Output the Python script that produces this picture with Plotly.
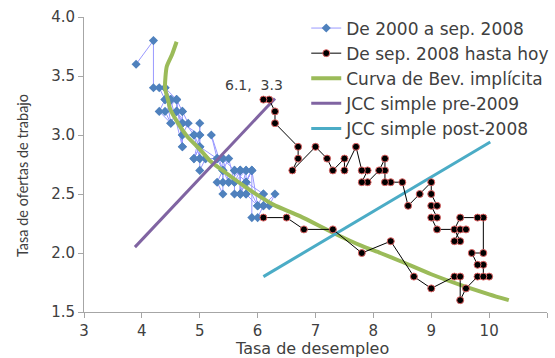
import plotly.graph_objects as go

# Blue series: De 2000 a sep. 2008 (unemployment rate, job openings rate)
blue_u = [3.9,
          4.2, 4.2, 4.3, 4.4, 4.3, 4.5, 4.6, 4.9, 5.0, 5.3, 5.5, 5.7,
          5.7, 5.7, 5.7, 5.9, 5.8, 5.8, 5.8, 5.7, 5.7, 5.7, 5.9, 6.0,
          5.8, 5.9, 5.9, 6.0, 6.1, 6.3, 6.2, 6.1, 6.1, 6.0, 5.8, 5.7,
          5.7, 5.6, 5.8, 5.6, 5.6, 5.6, 5.5, 5.4, 5.4, 5.5, 5.4, 5.4,
          5.3, 5.4, 5.2, 5.3, 5.1, 5.0, 5.0, 4.9, 5.0, 5.0, 5.0, 4.9,
          4.7, 4.8, 4.7, 4.7, 4.6, 4.6, 4.7, 4.7, 4.5, 4.4, 4.5, 4.4,
          4.6, 4.5, 4.4, 4.5, 4.4, 4.6, 4.7, 4.6, 4.7, 4.7, 4.7, 5.0,
          5.0, 4.9, 5.1, 5.0, 5.4, 5.6, 5.8, 6.1, 6.0]
blue_v = [3.6,
          3.8, 3.4, 3.4, 3.3, 3.2, 3.1, 3.2, 3.0, 2.9, 2.8, 2.6, 2.7,
          2.5, 2.7, 2.5, 2.7, 2.6, 2.5, 2.7, 2.5, 2.7, 2.5, 2.7, 2.4,
          2.6, 2.7, 2.3, 2.3, 2.4, 2.5, 2.4, 2.5, 2.4, 2.4, 2.5, 2.5,
          2.7, 2.6, 2.7, 2.7, 2.5, 2.6, 2.8, 2.7, 2.6, 2.6, 2.8, 2.5,
          2.6, 2.7, 3.0, 2.8, 2.8, 2.7, 2.9, 2.8, 3.0, 3.1, 2.8, 3.0,
          3.0, 3.1, 3.2, 2.9, 3.3, 3.2, 3.1, 2.9, 3.3, 3.4, 3.1, 3.2,
          3.3, 3.3, 3.3, 3.3, 3.4, 3.3, 3.2, 3.2, 3.1, 3.0, 3.1, 3.0,
          2.9, 2.8, 2.8, 2.8, 2.8, 2.7, 2.6, 2.5, 2.4]

# Red series: De sep. 2008 hasta hoy
red_u = [6.1, 6.5, 6.8, 7.3, 7.8, 8.3, 8.7, 9.0, 9.4, 9.5, 9.5, 9.6,
         9.8, 10.0, 9.9, 9.9, 9.8, 9.7, 9.9, 9.9, 9.8, 9.5, 9.4, 9.5,
         9.4, 9.5, 9.6, 9.1, 9.0, 9.1, 9.0, 9.1, 9.0, 9.0, 8.8, 8.6,
         8.5, 8.3, 8.2, 8.2, 8.2, 8.1, 7.9, 7.8, 7.9, 7.8, 7.7, 7.5,
         7.5, 7.3, 7.2, 7.0, 6.6, 6.7, 6.7, 6.3, 6.3, 6.2, 6.1]
red_v = [2.3, 2.3, 2.2, 2.2, 2.0, 2.1, 1.8, 1.7, 1.8, 1.8, 1.6, 1.7,
         1.8, 1.8, 1.8, 1.9, 1.9, 2.0, 2.0, 2.3, 2.3, 2.3, 2.2, 2.1,
         2.1, 2.2, 2.2, 2.2, 2.3, 2.3, 2.4, 2.4, 2.5, 2.6, 2.5, 2.4,
         2.6, 2.6, 2.6, 2.7, 2.8, 2.7, 2.6, 2.6, 2.7, 2.7, 2.9, 2.7,
         2.8, 2.7, 2.8, 2.9, 2.7, 2.8, 2.9, 3.1, 3.2, 3.3, 3.3]

# Implicit Beveridge curve
bev_u = [4.60, 4.52, 4.43, 4.40, 4.45, 4.49, 4.60, 4.78, 5.00, 5.18, 5.45,
         5.70, 6.00, 6.27, 6.74, 7.31, 7.80, 8.12, 8.47, 9.00, 9.50, 10.00, 10.34]
bev_v = [3.79, 3.68, 3.58, 3.40, 3.30, 3.22, 3.12, 2.99, 2.88, 2.78, 2.68,
         2.59, 2.49, 2.41, 2.31, 2.17, 2.06, 2.00, 1.93, 1.82, 1.73, 1.65, 1.60]

# Simple JCC lines
jcc_pre_u = [3.88, 6.30]
jcc_pre_v = [2.05, 3.31]
jcc_post_u = [6.10, 10.02]
jcc_post_v = [1.80, 2.94]

x_ticks = [3, 4, 5, 6, 7, 8, 9, 10, 11]
y_ticks = [1.5, 2.0, 2.5, 3.0, 3.5, 4.0]

names = ["De 2000 a sep. 2008", "De sep. 2008 hasta hoy", "Curva de Bev. implícita",
         "JCC simple pre-2009", "JCC simple post-2008"]

FONT = "DejaVu Sans"
TXT = "#404040"

fig = go.Figure()
fig.add_trace(go.Scatter(x=blue_u, y=blue_v, mode="lines+markers", name=names[0],
                         line=dict(color="#9999FF", width=1),
                         marker=dict(symbol="diamond", size=7, color="#4F81BD"),
                         legendgroup="g1", legendrank=1))
fig.add_trace(go.Scatter(x=bev_u, y=bev_v, mode="lines", name=names[2],
                         line=dict(color="#9BBB59", width=4, shape="spline", smoothing=0.6),
                         legendgroup="g3", legendrank=3))
fig.add_trace(go.Scatter(x=jcc_pre_u, y=jcc_pre_v, mode="lines", name=names[3],
                         line=dict(color="#8064A2", width=3), legendgroup="g4", legendrank=4))
fig.add_trace(go.Scatter(x=jcc_post_u, y=jcc_post_v, mode="lines", name=names[4],
                         line=dict(color="#4BACC6", width=3), legendgroup="g5", legendrank=5))
fig.add_trace(go.Scatter(x=red_u, y=red_v, mode="lines+markers", name=names[1],
                         line=dict(color="#000000", width=1),
                         marker=dict(symbol="circle", size=7, color="#000000",
                                     line=dict(color="#E06666", width=1)),
                         legendgroup="g2", legendrank=2))

fig.add_annotation(x=red_u[-1], y=red_v[-1], text="6.1,  3.3", showarrow=False,
                   xshift=-9, yshift=15, font=dict(family=FONT, size=14, color=TXT))

fig.add_annotation(xref="paper", yref="paper", x=0.4924, y=-0.124, text="Tasa de desempleo",
                   showarrow=False, xanchor="center", yanchor="middle",
                   font=dict(family=FONT, size=16, color=TXT))
fig.add_annotation(xref="paper", yref="paper", x=-0.134, y=0.464, text="Tasa de ofertas de trabajo",
                   showarrow=False, xanchor="center", yanchor="middle", textangle=-90,
                   font=dict(family="Lato", size=14.5, color=TXT))

fig.update_layout(
    width=555, height=358,
    margin=dict(l=84, r=8, t=17, b=46, autoexpand=False),
    plot_bgcolor="white", paper_bgcolor="white",
    font=dict(family=FONT, size=15, color=TXT),
    legend=dict(x=0.48, y=1.022, xanchor="left", yanchor="top",
                bgcolor="rgba(0,0,0,0)", font=dict(family=FONT, size=17, color=TXT),
                traceorder="grouped", tracegroupgap=0),
    showlegend=True,
)
fig.update_xaxes(range=[3, 11], tickvals=x_ticks, ticktext=[str(t) for t in x_ticks],
                 showgrid=False, zeroline=False, showline=True, linecolor="#A6A6A6",
                 ticks="outside", ticklen=5, tickcolor="#A6A6A6", automargin=False,
                 tickfont=dict(family=FONT, size=15, color=TXT))
fig.update_yaxes(range=[1.5, 4.0], tickvals=y_ticks, ticktext=[f"{t:.1f}" for t in y_ticks],
                 showgrid=False, zeroline=False, showline=True, linecolor="#A6A6A6",
                 ticks="outside", ticklen=5, tickcolor="#A6A6A6", automargin=False,
                 tickfont=dict(family=FONT, size=15, color=TXT))

fig.write_html("out.html", config={"displayModeBar": False},
               post_script="document.body.style.margin='0';")
